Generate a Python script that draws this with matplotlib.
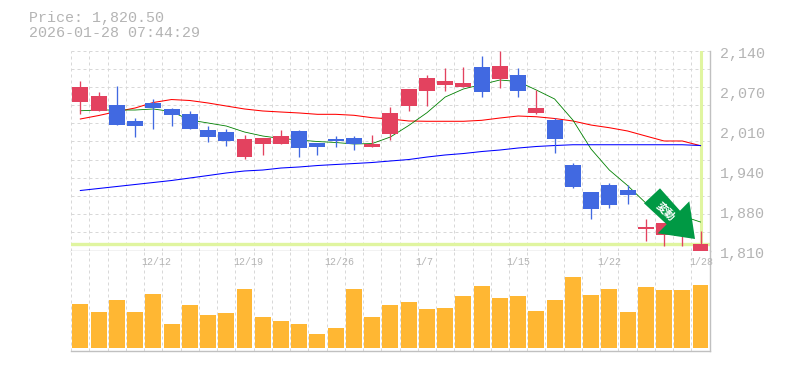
import matplotlib
matplotlib.use("Agg")
import numpy as np
import matplotlib.pyplot as plt
from matplotlib.patches import Polygon

W, H = 785, 370
MONO = "Liberation Mono"

opens = [2055, 2040.2, 2050, 2023.7, 2053.4, 2043.5, 2035.2, 2008.8, 2005.5, 1964.3, 1985.7, 1985.7,
         2007.2, 1987.3, 1994, 1995.6, 1980.8, 2002.2, 2048.4, 2073.2, 2083, 2079.8, 2112.8, 2092.9,
         2099.5, 2036.9, 2025.3, 1951, 1906.5, 1918.1, 1909.8, 1845.4, 1836, 1833.9, 1809.5]
closes = [2079.8, 2064.9, 2017, 2015.4, 2045.1, 2033.5, 2010.4, 1997.3, 1990.7, 1994, 1995.6, 1998.9,
          1979.1, 1980.8, 1990.7, 1985.7, 1985.7, 2036.9, 2076.5, 2094.6, 2089.6, 2086.3, 2071.5, 2114.4,
          2073.2, 2045.1, 1994, 1914.8, 1878.4, 1885, 1901.5, 1848.8, 1855.3, 1841, 1820.5]
highs = [2089.6, 2071.5, 2081.4, 2028.6, 2060, 2045.1, 2040.2, 2015.4, 2010.4, 2000.6, 1995.6, 2008.8,
         2008.8, 1987.3, 1998.9, 1998.9, 2000.6, 2046.8, 2076.5, 2099.5, 2111.1, 2112.8, 2130.9, 2139.2,
         2111.1, 2074.8, 2028.6, 1954.4, 1906.5, 1921.4, 1918.1, 1861.9, 1855.3, 1841, 1842.2]
lows = [2035.2, 2040.2, 2017, 1997.3, 2010.4, 2015.4, 2010.4, 1989, 1982.4, 1961, 1967.6, 1985.7,
        1964.3, 1967.6, 1980.8, 1975.8, 1980.8, 1992.3, 2040.2, 2048.4, 2073.2, 2079.8, 2063.2, 2078.1,
        2063.2, 2035.2, 1970.9, 1913.1, 1861.9, 1880.1, 1886.7, 1825.6, 1817.9, 1817.9, 1809.5]

ma_red = [2027, 2032.7, 2039.3, 2045.1, 2054.2, 2059.1, 2057.5, 2053.4, 2048.4, 2043.5, 2040.2, 2038.5,
          2036.9, 2034.7, 2034.7, 2033.1, 2029.1, 2027, 2023.7, 2023.2, 2023.2, 2023.2, 2024.8, 2028.6,
          2031.9, 2030.7, 2027.8, 2023.7, 2017, 2012.6, 2007.2, 1998.9, 1990.7, 1990.7, 1982.9]
ma_green = [2040.6, 2041.8, 2041.8, 2041.8, 2043.5, 2039.3, 2025.3, 2020.4, 2015.4, 2005.5, 1998.9, 1994.8,
            1992.3, 1989.8, 1988.2, 1985.7, 1986.5, 1997.3, 2016.2, 2037.3, 2063.2, 2076.5, 2083.9, 2091.3,
            2088.8, 2074.8, 2060, 2025.3, 1977.4, 1942.8, 1917.2, 1888.3, 1875.2, 1866.9, 1857]
ma_blue = [1909, 1912.3, 1915.6, 1918.9, 1922.2, 1925.5, 1929.6, 1933.7, 1937.9, 1941.2, 1942.8, 1946.1,
           1947.8, 1950.2, 1951.9, 1953.5, 1955.2, 1957.7, 1960.1, 1964.2, 1967.6, 1970, 1973.3, 1975.8,
           1979.1, 1981.6, 1983.2, 1984.5, 1984.5, 1984.5, 1984.5, 1984.5, 1984.5, 1984.5, 1983.2]

volumes = [44, 36, 48, 36, 54, 24, 43, 33, 35, 59, 31, 27, 24, 14, 20, 59, 31, 43,
           46, 39, 40, 52, 62, 50, 52, 37, 48, 71, 53, 59, 36, 61, 58, 58, 63]

date_idx = [4, 9, 14, 19, 24, 29, 34]
date_labels = ["12/12", "12/19", "12/26", "1/7", "1/15", "1/22", "1/28"]
price_ticks = [2140, 2074, 2008, 1942, 1876, 1810]
price_labels = ["2,140", "2,070", "2,010", "1,940", "1,880", "1,810"]
last_price = 1820.5

GRID = "#d8d8d8"
FRAME = "#c0c0c0"
TEXT = "#b4b4b4"
MARK = "#e0f5a0"
UP = "#e3425f"
DOWN = "#4169e1"


def px_axes(left, top, right, bottom):
    return fig.add_axes([left / W, 1 - bottom / H, (right - left) / W, (bottom - top) / H])


def px(x, y):
    return x / W, 1 - y / H


fig = plt.figure(figsize=(W / 100, H / 100), dpi=100, facecolor="white")

ax = px_axes(70.5, 50.5, 710, 250.5)
vol = px_axes(70.5, 250.5, 710, 350.5)

x = np.arange(len(closes))
for a in (ax, vol):
    a.set_xlim(-0.54, 34.52)
    a.set_xticks([])
    a.set_yticks([])
    for name, spine in a.spines.items():
        spine.set_visible(name in ("right", "bottom"))
        spine.set_color(FRAME)
        spine.set_linewidth(1.0)
    for g in np.arange(len(closes) + 1) - 0.5:
        a.axvline(g, color=GRID, lw=0.72, ls=(0, (3, 3)), zorder=1)

ax.set_ylim(1810, 2140)
for g in range(1840, 2141, 30):
    ax.axhline(g, color=GRID, lw=0.72, ls=(0, (3, 3)), zorder=1)

# current price cross
ax.axhline(last_price, color=MARK, lw=2.4, zorder=2)
ax.axvline(x[-1], color=MARK, lw=2.2, zorder=2)

ax.plot(x, ma_red, color="#ff0000", lw=0.75, zorder=3)
ax.plot(x, ma_green, color="#008000", lw=0.6, zorder=3)
ax.plot(x, ma_blue, color="#0000ff", lw=0.75, zorder=3)

for i in x:
    c = UP if closes[i] >= opens[i] else DOWN
    ax.vlines(i, lows[i], highs[i], color=c, lw=0.95, zorder=4)
    ax.bar(i, abs(closes[i] - opens[i]), bottom=min(opens[i], closes[i]), width=0.875,
           color=c, zorder=5, clip_on=False)

vol.set_ylim(-2.5, 97.5)
vol.bar(x, volumes, width=0.875, color="#ffb733", zorder=2)

for t, lab in zip(price_ticks, price_labels):
    ax.annotate(lab, (1, t), xycoords=ax.get_yaxis_transform(), xytext=(7.5, -2.2), textcoords="offset points",
                ha="left", va="center", family=MONO, fontsize=10.8, color=TEXT)

for i, lab in zip(date_idx, date_labels):
    vol.annotate(lab, (i, 1), xycoords=vol.get_xaxis_transform(), xytext=(-8.3, -8.5), textcoords="offset points",
                 ha="left", va="center", family=MONO, fontsize=7.2, color=TEXT, zorder=6)

fig.text(*px(29, 18), "Price: 1,820.50", family=MONO, fontsize=10.8, color=TEXT, va="center")
fig.text(*px(29, 33), "2026-01-28 07:44:29", family=MONO, fontsize=10.8, color=TEXT, va="center")

# signal arrow
arrow = [(660, 188.3), (644, 203.3), (666.7, 224.3), (657.7, 233.3), (695, 239), (689.3, 201.3), (680, 210.7)]
fig.add_artist(Polygon([px(*p) for p in arrow], closed=True, transform=fig.transFigure,
                       facecolor="#009944", edgecolor="none", zorder=10))
fig.text(*px(666, 211), "変動", family=["Noto Sans CJK JP", "DejaVu Sans"], fontsize=7.8, fontweight="bold",
         color="white", rotation=-45, ha="center", va="center", rotation_mode="anchor", zorder=11)

fig.savefig("out.png", dpi=100)
